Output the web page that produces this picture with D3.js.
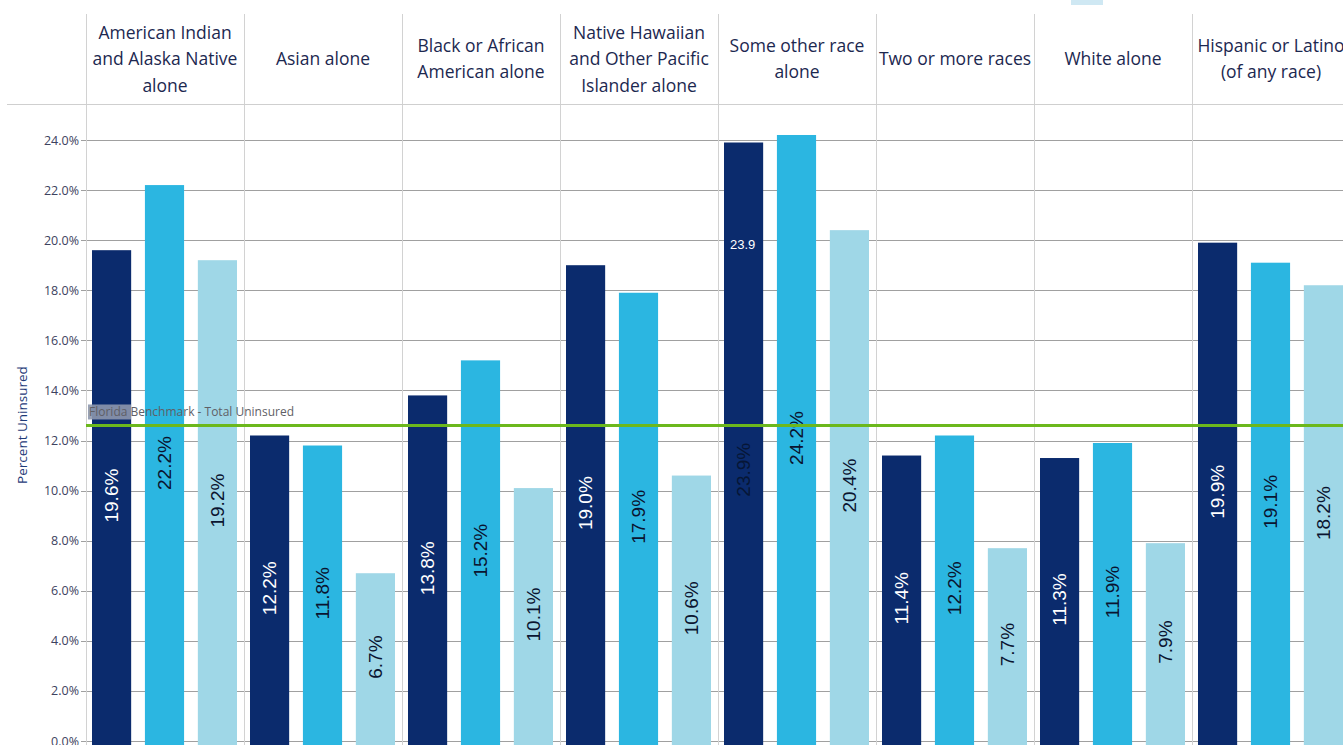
<!DOCTYPE html>
<html>
<head>
<meta charset="utf-8">
<script src="https://cdn.jsdelivr.net/npm/d3@7"></script>
<style>
  html, body { margin: 0; padding: 0; background: #fff; overflow: hidden; }
  svg { display: block; font-family: "Open Sans", "Noto Sans", sans-serif; }
</style>
</head>
<body>
<svg id="chart" width="1343" height="745"></svg>
<script>
// Uninsured rate by race / ethnicity, three series per group
const categories = [
  "American Indian\nand Alaska Native\nalone",
  "Asian alone",
  "Black or African\nAmerican alone",
  "Native Hawaiian\nand Other Pacific\nIslander alone",
  "Some other race\nalone",
  "Two or more races",
  "White alone",
  "Hispanic or Latino\n(of any race)"
];
const seriesNames = ["s1", "s2", "s3"];
const series1 = [19.6, 12.2, 13.8, 19.0, 23.9, 11.4, 11.3, 19.9];
const series2 = [22.2, 11.8, 15.2, 17.9, 24.2, 12.2, 11.9, 19.1];
const series3 = [19.2, 6.7, 10.1, 10.6, 20.4, 7.7, 7.9, 18.2];
const seriesColors = ["#0b2b6d", "#2bb6e1", "#9fd7e7"];
const labelColors = ["#ffffff", "#0a1430", "#0a1430"];
const yTicks = [0, 2, 4, 6, 8, 10, 12, 14, 16, 18, 20, 22, 24];
const benchmark = 12.6;
const benchmarkLabel = "Florida Benchmark - Total Uninsured";
const yAxisTitle = "Percent Uninsured";

const svg = d3.select("#chart");
const values = [series1, series2, series3];

const x = d3.scaleBand().domain(categories).range([86, 1350]).padding(0);
const xInner = d3.scaleBand().domain(seriesNames).range([6, 151]).paddingInner(0.26).paddingOuter(0);
const y = d3.scaleLinear().domain([0, 24]).range([741, 140]);

// horizontal gridlines
const grid = svg.append("g");
grid.selectAll("line").data(yTicks).join("line")
  .attr("x1", 81).attr("x2", 1343)
  .attr("y1", d => Math.round(y(d)) + 0.5).attr("y2", d => Math.round(y(d)) + 0.5)
  .attr("stroke", "#a0a0a0").attr("stroke-width", 1);

// y axis tick labels
const yAxis = d3.axisLeft(y).tickValues(yTicks).tickFormat(d => d.toFixed(1) + "%").tickSize(0).tickPadding(0);
const ya = svg.append("g").attr("transform", "translate(79,0)").call(yAxis);
ya.select(".domain").remove();
ya.selectAll("text")
  .attr("font-size", 12.5).attr("fill", "#3d4260")
  .attr("font-family", "'Open Sans', sans-serif");

// y axis title
svg.append("text")
  .attr("transform", "translate(27,425) rotate(-90)")
  .attr("text-anchor", "middle")
  .attr("font-size", 13.5).attr("fill", "#1e3a78")
  .text(yAxisTitle);

// panel separators
svg.append("g").selectAll("line").data(categories).join("line")
  .attr("x1", d => Math.round(x(d)) + 0.5).attr("x2", d => Math.round(x(d)) + 0.5)
  .attr("y1", 14).attr("y2", 745)
  .attr("stroke", "#d2d2d2").attr("stroke-width", 1);

// header rule
svg.append("line")
  .attr("x1", 7).attr("x2", 1343).attr("y1", 104.5).attr("y2", 104.5)
  .attr("stroke", "#cfcfcf").attr("stroke-width", 1.2);

// header labels
const headers = svg.append("g").selectAll("text").data(categories).join("text")
  .attr("text-anchor", "middle")
  .attr("font-size", 17.5).attr("fill", "#1c2850");
headers.each(function(d) {
  const lines = d.split("\n");
  const lh = 26.5;
  const cy = 65 - (lines.length - 1) * lh / 2;
  d3.select(this).selectAll("tspan").data(lines).join("tspan")
    .attr("x", x(d) + x.bandwidth() / 2)
    .attr("y", (l, i) => cy + i * lh)
    .text(l => l);
});

// bars
const groups = svg.append("g").selectAll("g").data(categories).join("g")
  .attr("transform", d => `translate(${x(d)},0)`);
groups.each(function(cat, ci) {
  const g = d3.select(this);
  seriesNames.forEach((s, si) => {
    const v = values[si][ci];
    g.append("rect")
      .attr("x", xInner(s)).attr("width", xInner.bandwidth())
      .attr("y", y(v)).attr("height", y(0) - y(v) + 10)
      .attr("fill", seriesColors[si]);
  });
});

// benchmark line
svg.append("line")
  .attr("x1", 86).attr("x2", 1343)
  .attr("y1", y(benchmark)).attr("y2", y(benchmark))
  .attr("stroke", "#6cb81c").attr("stroke-width", 3);
svg.append("rect")
  .attr("x", 88).attr("y", y(benchmark) - 21).attr("width", 43).attr("height", 15)
  .attr("fill", "#8d97ad").attr("opacity", 0.9);
svg.append("text")
  .attr("x", 89).attr("y", y(benchmark) - 9)
  .attr("font-size", 12).attr("fill", "#5f5f66")
  .text(benchmarkLabel);

// value labels, rotated inside each bar
groups.each(function(cat, ci) {
  const g = d3.select(this);
  seriesNames.forEach((s, si) => {
    const v = values[si][ci];
    const cx = xInner(s) + xInner.bandwidth() / 2;
    const overflow = v > 23.5 && si === 0;
    const cy = overflow ? (y(v) + y(0)) / 2 + 28 : (y(v) + y(0)) / 2;
    g.append("text")
      .attr("transform", `translate(${cx + 6.5},${cy}) rotate(-90)`)
      .attr("text-anchor", "middle")
      .attr("font-size", 19)
      .attr("font-family", "'Liberation Sans', Arial, sans-serif")
      .attr("fill", overflow ? "#061636" : labelColors[si])
      .text(v.toFixed(1) + "%");
    if (overflow) {
      g.append("text")
        .attr("x", cx - 1).attr("y", y(v) + 106)
        .attr("text-anchor", "middle")
        .attr("font-size", 13)
        .attr("font-family", "'Liberation Sans', Arial, sans-serif")
        .attr("fill", "#ffffff")
        .text(v.toFixed(1));
    }
  });
});

// legend swatch at top edge
svg.append("rect")
  .attr("x", 1071).attr("y", -8).attr("width", 32).attr("height", 13)
  .attr("fill", "#cfe8f3");
</script>
</body>
</html>
